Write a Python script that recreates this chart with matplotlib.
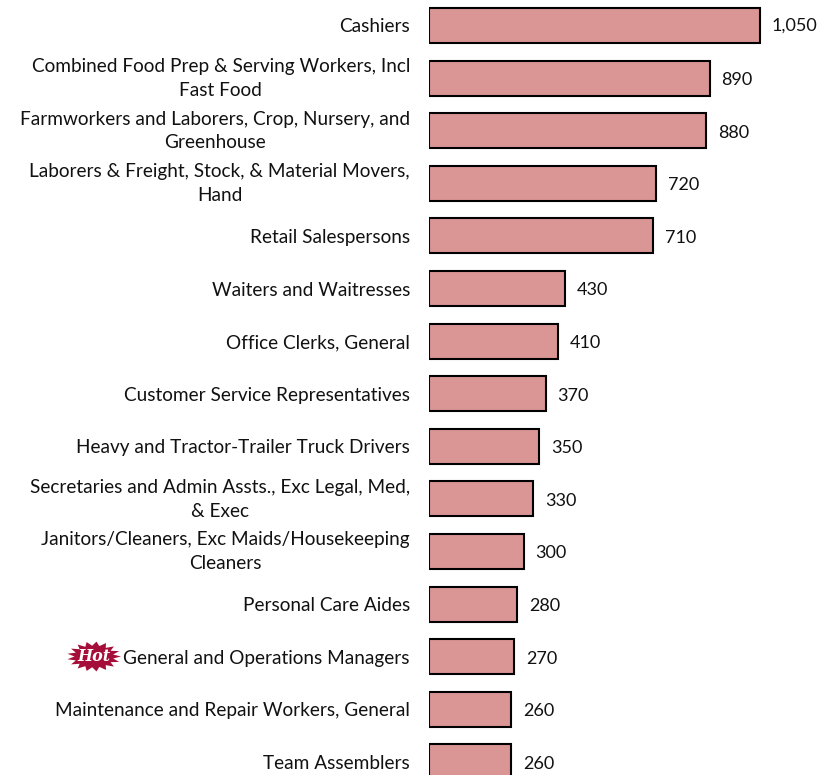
import numpy as np
import matplotlib
matplotlib.use("Agg")
import matplotlib.pyplot as plt
from matplotlib.patches import Polygon
from matplotlib.transforms import IdentityTransform, ScaledTranslation

occupations = [
    "Cashiers",
    "Combined Food Prep & Serving Workers, Incl\nFast Food",
    "Farmworkers and Laborers, Crop, Nursery, and\nGreenhouse",
    "Laborers & Freight, Stock, & Material Movers,\nHand",
    "Retail Salespersons",
    "Waiters and Waitresses",
    "Office Clerks, General",
    "Customer Service Representatives",
    "Heavy and Tractor-Trailer Truck Drivers",
    "Secretaries and Admin Assts., Exc Legal, Med,\n& Exec",
    "Janitors/Cleaners, Exc Maids/Housekeeping\nCleaners",
    "Personal Care Aides",
    "General and Operations Managers",
    "Maintenance and Repair Workers, General",
    "Team Assemblers",
]
values = [1050, 890, 880, 720, 710, 430, 410, 370, 350, 330, 300, 280, 270, 260, 260]

W, H = 820, 775
plt.rcParams['font.family'] = ['Lato', 'DejaVu Sans']
fig = plt.figure(figsize=(W / 100, H / 100), dpi=100)
ax = fig.add_axes([429 / W, 0, (W - 429) / W, 1])

y = np.arange(len(values))
bars = ax.barh(y, values, height=0.665, color="#DA9694", edgecolor="black", linewidth=1.5)
ax.set_xlim(0, 391 / (331 / 1050))
ax.set_ylim((H - 25.5) / 52.6, -25.5 / 52.6)
ax.set_xticks([])
ax.set_yticks(y, occupations)
ax.tick_params(axis='y', length=0, pad=13.7, labelsize=13.65)
for lab in ax.get_yticklabels():
    lab.set_multialignment('center')
    lab.set_linespacing(1.48)
    lab.set_color("#111111")
    if "\n" in lab.get_text():
        lab.set_transform(lab.get_transform() + ScaledTranslation(0, 4.5 / 100, fig.dpi_scale_trans))
for s in ax.spines.values():
    s.set_visible(False)
texts = ax.bar_label(bars, labels=[f"{v:,}" for v in values], padding=8.6, fontsize=13, color="#111111")
for t in texts[1:]:
    x0, y0 = t.xyann
    t.xyann = (x0, y0 - 1.3)

# "Hot" starburst badge (decoration)
n = 17
ang = np.linspace(0, 2 * np.pi, 2 * n, endpoint=False)
rad = np.where(np.arange(2 * n) % 2 == 0, 1.0, 0.72)
cx, cy, rx, ry = 94, H - 656.5, 27, 15
star = np.column_stack([cx + rx * rad * np.cos(ang), cy + ry * rad * np.sin(ang)])
fig.add_artist(Polygon(star, closed=True, transform=IdentityTransform(),
                       facecolor="#A50E38", edgecolor="none"))
fig.text(94 / W, 1 - 656.5 / H, "Hot", color="white", ha="center", va="center",
         fontsize=11.5, style="italic", weight="bold", family="DejaVu Serif")

fig.savefig("out.png", dpi=100)
